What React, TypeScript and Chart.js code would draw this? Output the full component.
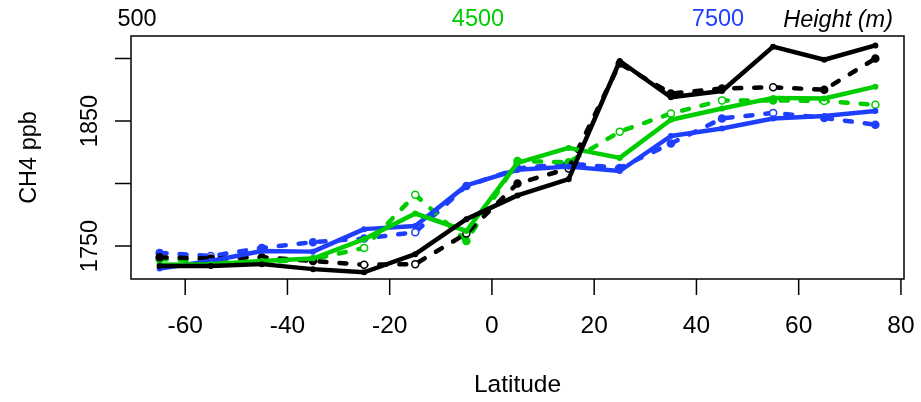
import React, { useEffect, useRef } from "react";
import { Chart, registerables } from "chart.js";

Chart.register(...registerables);

const latitudes = [-65, -55, -45, -35, -25, -15, -5, 5, 15, 25, 35, 45, 55, 65, 75];

const black500Solid = [1734, 1734, 1735.5, 1731.5, 1729, 1743.5, 1771.5, 1790.5, 1803.5, 1898, 1869, 1874, 1909.5, 1899, 1910.5];
const black500Dashed = [1741, 1740, 1741, 1738, 1735, 1735.5, 1760, 1800, 1812, 1896, 1872, 1876, 1877, 1875, 1900];
const green4500Solid = [1735, 1735.5, 1738, 1740, 1755.5, 1776, 1762, 1816.5, 1828.5, 1820.5, 1851, 1860, 1868.5, 1868, 1877.5];
const green4500Dashed = [1739.5, 1738, 1737, 1739.5, 1748.5, 1791, 1754, 1818, 1817, 1841.5, 1856, 1866.5, 1866.5, 1866, 1863];
const blue7500Solid = [1732, 1738, 1746, 1745.5, 1763.5, 1766, 1798.5, 1811, 1813.5, 1810, 1838, 1844, 1852, 1854, 1858];
const blue7500Dashed = [1744.5, 1742, 1748.5, 1753, 1756, 1761, 1798, 1812, 1816, 1812.5, 1832, 1852, 1856.5, 1852.5, 1847];

// indices of points drawn as open circles on the dashed series
const black500Open = [4, 5, 6, 8, 12];
const green4500Open = [2, 4, 5, 9, 10, 11, 13, 14];
const blue7500Open = [1, 5, 8, 12];

const xTicks = [-60, -40, -20, 0, 20, 40, 60, 80];
const yTicks = [1750, 1800, 1850, 1900];
const yTickLabels = ["1750", "", "1850", ""];

const heightLabels = ["500", "4500", "7500"];
const heightTitle = "Height (m)";
const xTitle = "Latitude";
const yTitle = "CH4 ppb";

const BLACK = "#000000";
const GREEN = "#00cd00";
const BLUE = "#1f3fff";
const FONT = '"Liberation Sans", Arial, sans-serif';
const FS = 23.5;
const FSX = 24.5;

function pts(vals: number[]) {
  return vals.map((v, i) => ({ x: latitudes[i], y: v }));
}

function solidDs(label: string, vals: number[], color: string, order: number) {
  return {
    label,
    data: pts(vals),
    borderColor: color,
    backgroundColor: color,
    borderWidth: 4.5,
    borderCapStyle: "round",
    borderJoinStyle: "round",
    pointRadius: 3,
    pointBorderWidth: 0,
    pointBackgroundColor: color,
    showLine: true,
    tension: 0,
    order,
  };
}

function dashedDs(label: string, vals: number[], color: string, open: number[], order: number) {
  return {
    label,
    data: pts(vals),
    borderColor: color,
    backgroundColor: color,
    borderWidth: 4.5,
    borderCapStyle: "round",
    borderJoinStyle: "round",
    borderDash: [7, 13],
    pointRadius: 3.5,
    pointBorderWidth: 1.5,
    pointBorderColor: color,
    pointBackgroundColor: vals.map((_, i) => (open.includes(i) ? "#ffffff" : color)),
    showLine: true,
    tension: 0,
    order,
  };
}

const axesPlugin = {
  id: "rAxes",
  afterDraw(chart: any) {
    const ctx = chart.ctx;
    const area = chart.chartArea;
    const xs = chart.scales.x;
    const ys = chart.scales.y;
    ctx.save();
    ctx.strokeStyle = "#000";
    ctx.lineWidth = 1.5;
    ctx.strokeRect(area.left, area.top, area.right - area.left, area.bottom - area.top);
    ctx.fillStyle = "#000";
    ctx.font = `${FSX}px ${FONT}`;
    // x ticks
    ctx.textAlign = "center";
    ctx.textBaseline = "middle";
    xTicks.forEach((t) => {
      const px = xs.getPixelForValue(t);
      ctx.beginPath();
      ctx.moveTo(px, area.bottom);
      ctx.lineTo(px, area.bottom + 16);
      ctx.stroke();
      ctx.fillText(String(t), px, area.bottom + 47);
    });
    ctx.fillText(xTitle, (area.left + area.right) / 2, 385);
    // y ticks
    ctx.font = `${FS}px ${FONT}`;
    yTicks.forEach((t, i) => {
      const py = ys.getPixelForValue(t);
      ctx.beginPath();
      ctx.moveTo(area.left, py);
      ctx.lineTo(area.left - 16, py);
      ctx.stroke();
      if (yTickLabels[i]) {
        ctx.save();
        ctx.translate(area.left - 40, py);
        ctx.rotate(-Math.PI / 2);
        ctx.fillText(yTickLabels[i], 0, 0);
        ctx.restore();
      }
    });
    ctx.save();
    ctx.translate(30, (area.top + area.bottom) / 2);
    ctx.rotate(-Math.PI / 2);
    ctx.fillText(yTitle, 0, 0);
    ctx.restore();
    // top labels
    const tops = [
      { text: heightLabels[0], x: 137, color: BLACK },
      { text: heightLabels[1], x: 478, color: GREEN },
      { text: heightLabels[2], x: 718, color: BLUE },
    ];
    tops.forEach((t) => {
      ctx.fillStyle = t.color;
      ctx.fillText(t.text, t.x, 20);
    });
    ctx.fillStyle = BLACK;
    ctx.font = `italic ${FS}px ${FONT}`;
    ctx.textAlign = "right";
    ctx.fillText(heightTitle, 893, 20);
    ctx.restore();
  },
};

export default function App() {
  const ref = useRef<HTMLCanvasElement | null>(null);
  useEffect(() => {
    document.body.style.margin = "0";
    const canvas = ref.current;
    if (!canvas) return;
    const chart = new Chart(canvas, {
      type: "scatter",
      data: {
        datasets: [
          solidDs("500 solid", black500Solid, BLACK, 1),
          solidDs("4500 solid", green4500Solid, GREEN, 2),
          solidDs("7500 solid", blue7500Solid, BLUE, 3),
          dashedDs("500 dashed", black500Dashed, BLACK, black500Open, 4),
          dashedDs("4500 dashed", green4500Dashed, GREEN, green4500Open, 5),
          dashedDs("7500 dashed", blue7500Dashed, BLUE, blue7500Open, 6),
        ] as any,
      },
      options: {
        animation: false,
        responsive: false,
        maintainAspectRatio: false,
        layout: { padding: { left: 131, right: 17, top: 36, bottom: 123 } },
        plugins: { legend: { display: false }, tooltip: { enabled: false } },
        scales: {
          x: { type: "linear", min: -70.6, max: 80.6, display: false },
          y: { type: "linear", min: 1723.6, max: 1918, display: false },
        },
      },
      plugins: [axesPlugin],
    });
    return () => chart.destroy();
  }, []);
  return (
    <div style={{ position: "absolute", left: 0, top: 0, width: 921, height: 402, background: "#fff" }}>
      <canvas ref={ref} width={921} height={402} style={{ width: 921, height: 402 }} />
    </div>
  );
}
